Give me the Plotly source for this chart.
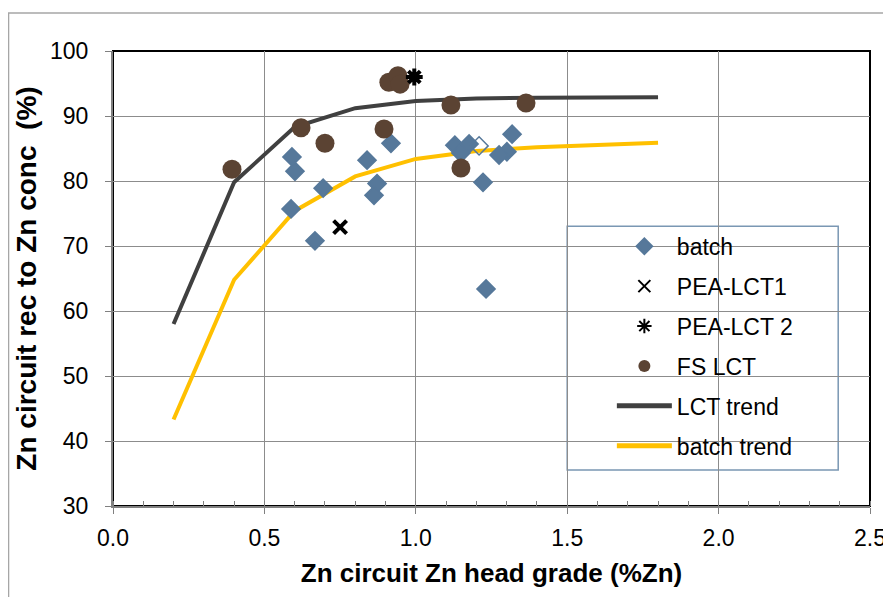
import plotly.graph_objects as go

# batch tests
batch_x = [0.591, 0.601, 0.588, 0.667, 0.694, 0.839, 0.872, 0.862, 0.918,
           1.129, 1.176, 1.209, 1.318, 1.301, 1.275, 1.149, 1.222, 1.232]
batch_y = [83.7, 81.5, 75.7, 70.8, 78.9, 83.2, 79.6, 77.8, 85.8,
           85.5, 85.7, 85.4, 87.2, 84.5, 84.0, 84.3, 79.8, 63.4]
batch_open = [False] * 11 + [True] + [False] * 6

# pilot / locked cycle tests
pea1_x = [0.75]
pea1_y = [72.9]
pea2_x = [0.995]
pea2_y = [96.0]

fs_x = [0.393, 0.621, 0.70, 0.895, 0.911, 0.941, 0.948, 1.116, 1.149, 1.364]
fs_y = [81.8, 88.2, 85.8, 88.0, 95.2, 96.2, 94.9, 91.7, 82.0, 92.0]

# trend lines
trend_x = [0.2, 0.4, 0.6, 0.8, 1.0, 1.2, 1.4, 1.6, 1.8]
lct_trend = [58.0, 79.8, 88.3, 91.2, 92.3, 92.7, 92.8, 92.9, 92.9]
batch_trend = [43.3, 64.8, 75.4, 80.7, 83.4, 84.6, 85.2, 85.6, 85.9]

blue = "#56789A"
brown = "#5B4333"

fig = go.Figure()
fig.add_trace(go.Scatter(x=trend_x, y=lct_trend, mode="lines", name="LCT trend",
                         line=dict(color="#404040", width=4), legendrank=5, legendgroup="e"))
fig.add_trace(go.Scatter(x=trend_x, y=batch_trend, mode="lines", name="batch trend",
                         line=dict(color="#FFC000", width=4), legendrank=6, legendgroup="f"))
fig.add_trace(go.Scatter(x=batch_x, y=batch_y, mode="markers", name="batch",
                         marker=dict(symbol=["diamond-open" if o else "diamond" for o in batch_open],
                                     size=14, color=blue, line=dict(color=blue, width=1.5)),
                         legendrank=1, legendgroup="a"))
fig.add_trace(go.Scatter(x=pea1_x, y=pea1_y, mode="markers", name="PEA-LCT1",
                         marker=dict(symbol="x-thin", size=13, line=dict(color="black", width=4)),
                         legendrank=2, legendgroup="b"))
fig.add_trace(go.Scatter(x=fs_x, y=fs_y, mode="markers", name="FS LCT",
                         marker=dict(symbol="circle", size=19, color=brown),
                         legendrank=4, legendgroup="d"))
fig.add_trace(go.Scatter(x=pea2_x, y=pea2_y, mode="markers", name="PEA-LCT 2",
                         marker=dict(symbol="asterisk", size=14, line=dict(color="black", width=4)),
                         legendrank=3, legendgroup="c"))

# plot area border (black top/right), outer chart frame, legend box
fig.add_shape(type="rect", xref="paper", yref="paper", x0=0, x1=1, y0=0, y1=1,
              line=dict(color="black", width=2), layer="below")
fig.add_shape(type="rect", xref="paper", yref="paper", x0=-0.138, x1=1.2, y0=-0.4, y1=1.0835,
              line=dict(color="#A6A6A6", width=1.5), layer="below")
fig.add_shape(type="rect", xref="paper", yref="paper", x0=0.600, x1=0.958, y0=0.079, y1=0.615,
              line=dict(color="#7A97B3", width=1.5), fillcolor="white", layer="between")

fig.update_layout(
    width=891, height=597,
    margin=dict(l=105, r=29, t=43, b=99),
    plot_bgcolor="white", paper_bgcolor="white",
    font=dict(family="Liberation Sans, Arial", size=23, color="black"),
    showlegend=True,
    legend=dict(x=0.659, y=0.618, xanchor="left", yanchor="top",
                bgcolor="rgba(0,0,0,0)", borderwidth=0, itemsizing="constant",
                font=dict(size=23), tracegroupgap=7, itemwidth=55),
    xaxis=dict(range=[0, 2.5], dtick=0.5, tickformat=".1f", automargin=False,
               ticklabelstandoff=4,
               showgrid=True, gridcolor="#8C8C8C", gridwidth=1,
               showline=True, linecolor="#808080", linewidth=2,
               ticks="outside", ticklen=6, tickcolor="#808080",
               minor=dict(dtick=0.1, ticks="inside", ticklen=5, tickcolor="#808080", showgrid=False),
               zeroline=False,
               title=dict(text="<b>Zn circuit Zn head grade (%Zn)</b>", standoff=14,
                          font=dict(size=26))),
    yaxis=dict(range=[30, 100], dtick=10, automargin=False, ticklabelstandoff=12,
               showgrid=True, gridcolor="#8C8C8C", gridwidth=1,
               showline=True, linecolor="#808080", linewidth=2,
               ticks="outside", ticklen=6, tickcolor="#808080",
               zeroline=False,
               title=dict(text="<b>Zn circuit rec to Zn conc\u00a0\u00a0(%)</b>", standoff=5,
                          font=dict(size=28))),
)

fig.write_html("out.html")
